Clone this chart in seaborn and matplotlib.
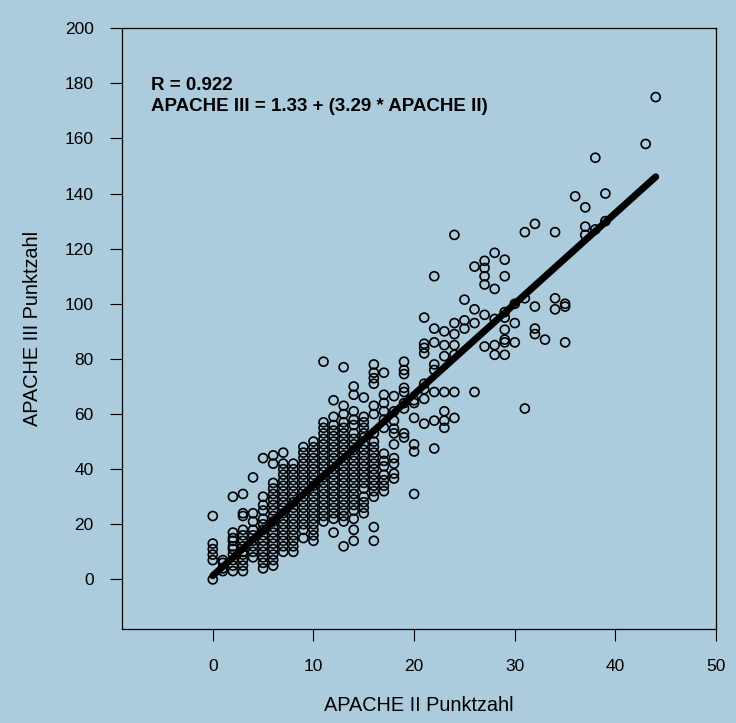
import pandas as pd
import matplotlib.pyplot as plt
import seaborn as sns

# APACHE III values, one list per APACHE II score
apache2_low = list(range(0, 10))
apache3_low = [
    [0, 7, 9, 11, 13, 23],
    [3, 4, 6, 7],
    [3, 5, 7, 9, 11, 12, 14, 15, 17, 30],
    [3, 5, 7, 9, 10, 12, 14, 16, 18, 23, 24, 31],
    [8, 10, 12, 14, 16, 18, 21, 24, 37],
    [4, 6, 8, 10, 12, 14, 16, 18, 20, 22, 25, 27, 30, 44],
    [5, 7, 9, 11, 13, 15, 17, 19, 21, 23, 25, 27, 29, 31, 33, 35, 42, 45],
    [10, 12, 14, 16, 18, 20, 22, 24, 26, 28, 30, 32, 34, 36, 38, 40, 42, 46],
    [10, 12, 14, 16, 18, 20, 22, 24, 26, 28, 30, 32, 34, 36, 38, 40, 42],
    [15, 18, 20, 22, 24, 26, 28, 30, 32, 34, 36, 38, 40, 42, 44, 46, 48],
]

apache2_mid = list(range(10, 20))
apache3_mid = [
    [14, 16, 18, 20, 22, 24, 26, 28, 30, 32, 34, 36, 38, 40, 42, 44, 46, 48, 50],
    [21, 23, 25, 27, 29, 31, 33, 35, 37, 39, 41, 43, 45, 47, 49, 51, 53, 55, 57, 79],
    [17, 22, 24, 26, 28, 30, 32, 34, 36, 38, 40, 42, 44, 46, 48, 50, 52, 54, 56, 59, 65],
    [12, 21, 23, 25, 27, 29, 31, 33, 35, 37, 39, 41, 43, 45, 47, 49, 51, 53, 55, 57, 60, 63, 77],
    [14, 18, 22, 25, 27, 29, 31, 33, 35, 37, 39, 41, 43, 45, 47, 49, 51, 53, 56, 58, 61, 67, 70],
    [24, 26, 28, 30, 33, 35, 37, 39, 41, 43, 45, 47, 49, 51.5, 53, 55, 57, 59, 66],
    [14, 19, 30, 32, 34, 36, 38, 40, 42, 44, 46, 48, 50, 53, 60, 63, 71, 73, 75, 78],
    [32, 34, 36, 38, 41, 43, 45.6, 55, 58, 61, 64, 67, 75],
    [36.6, 38.4, 42, 44, 49, 53, 54.7, 57.6, 61, 66.5],
    [51.5, 53, 62, 64, 68, 69.5, 74.5, 76, 79],
]

apache2_high = [20, 21, 22, 23, 24, 25, 26, 27, 28, 29, 30, 31, 32, 33, 34, 35, 36, 37, 38, 39, 43, 44]
apache3_high = [
    [31, 46.4, 49, 58.6, 64, 65],
    [56.5, 65.5, 69, 71, 82, 84, 85.5, 95],
    [47.5, 57.6, 68, 76, 78, 86, 91, 110],
    [55, 57.6, 61, 68, 81, 85, 90],
    [58.6, 68, 81.5, 85, 89, 93, 125],
    [91, 94, 101.5],
    [68, 93, 98, 113.5],
    [84.5, 96, 107, 110, 113, 115.6],
    [81.5, 85, 94.5, 105.4, 118.5],
    [81.5, 86, 87, 90.6, 95, 97, 110, 116],
    [86, 93, 100],
    [62, 102, 126],
    [89, 91, 99, 129],
    [87],
    [98, 102, 126],
    [86, 99, 100],
    [139],
    [125, 128, 135],
    [127, 153],
    [130, 140],
    [158],
    [175],
]

intercept = 1.33
slope = 3.29
line_x = [0, 44]

rows = []
for scores, values in [(apache2_low, apache3_low), (apache2_mid, apache3_mid), (apache2_high, apache3_high)]:
    for s, vals in zip(scores, values):
        for v in vals:
            rows.append((s, v))
df = pd.DataFrame(rows, columns=["apache2", "apache3"])
line_df = pd.DataFrame({"x": line_x, "y": [intercept + slope * x for x in line_x]})

bg = "#accbdc"
sns.set_theme(style="ticks")
plt.rcParams["font.family"] = ["Liberation Sans", "DejaVu Sans"]
plt.rcParams.update({"text.color": "black", "axes.labelcolor": "black",
                     "xtick.color": "black", "ytick.color": "black"})

fig = plt.figure(figsize=(7.36, 7.23), dpi=100, facecolor=bg)
ax = fig.add_axes([0.166, 0.130, 0.807, 0.831])
ax.set_facecolor(bg)

sns.lineplot(data=line_df, x="x", y="y", ax=ax, color="black", linewidth=5,
             solid_capstyle="round", zorder=2)
sns.scatterplot(data=df, x="apache2", y="apache3", ax=ax, s=42, marker="o",
                facecolors="none", edgecolor="black", linewidth=1.2, zorder=3)

ax.set_xlim(-9, 50)
ax.set_ylim(-18, 200)
ax.set_xticks(range(0, 51, 10))
ax.set_yticks(range(0, 201, 20))
ax.tick_params(axis="x", direction="out", length=8.5, width=0.8, pad=13, labelsize=12.5)
ax.tick_params(axis="y", direction="out", length=8.5, width=0.8, pad=12, labelsize=12.5)
for sp in ax.spines.values():
    sp.set_visible(True)
    sp.set_linewidth(0.9)
    sp.set_color("black")

ax.set_xlabel("APACHE II Punktzahl", fontsize=14.3, labelpad=16)
ax.set_ylabel("APACHE III Punktzahl", fontsize=14.3, labelpad=16)

ax.text(0.048, 0.905, "R = 0.922", transform=ax.transAxes, fontsize=13.5,
        fontweight="bold", va="center")
ax.text(0.048, 0.870, "APACHE III = 1.33 + (3.29 * APACHE II)", transform=ax.transAxes,
        fontsize=13.5, fontweight="bold", va="center")

fig.savefig("out.png", dpi=100, facecolor=bg)
